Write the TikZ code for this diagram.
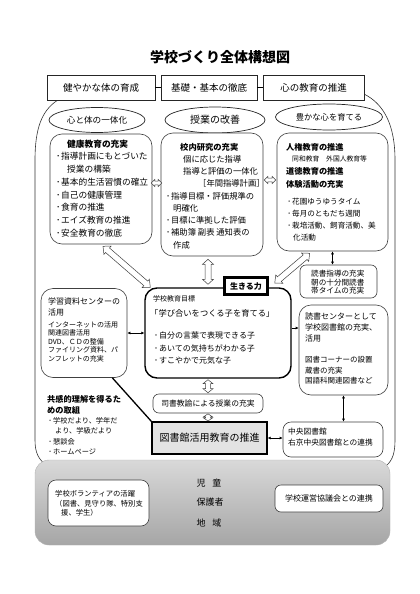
\documentclass[tikz,border=0pt]{standalone}
\usepackage{fontspec}
\setmainfont{Noto Sans CJK JP}
\usetikzlibrary{calc,arrows.meta,shapes.geometric}
\newcommand{\dotb}{\makebox[6pt][c]{･}}
\newcommand{\fsz}[2]{\fontsize{#1pt}{#2pt}\selectfont}
\newcommand{\hollowarr}[5]{%
  \coordinate (h1) at ($(#1)!#5pt!(#2)$);
  \coordinate (h2) at ($(#2)!#5pt!(#1)$);
  \draw[harrow] (#1) -- ($(h1)!#4pt!90:(#2)$) -- ($(h1)!#3pt!90:(#2)$) -- ($(h2)!#3pt!-90:(#1)$) -- ($(h2)!#4pt!-90:(#1)$) -- (#2) -- ($(h2)!#4pt!90:(#1)$) -- ($(h2)!#3pt!90:(#1)$) -- ($(h1)!#3pt!-90:(#2)$) -- ($(h1)!#4pt!-90:(#2)$) -- cycle;}
\tikzset{
 topbox/.style={draw=black!85, line width=0.8pt, fill=white, minimum height=25pt, inner sep=0pt, font=\fsz{9.5}{11}},
 ell/.style={ellipse, draw=black!85, line width=0.7pt, fill=white, inner sep=0pt},
 rbox/.style={draw=black!75, line width=0.6pt, rounded corners=12pt, fill=white, inner sep=0pt},
 sbox/.style={draw=black!75, line width=0.6pt, rounded corners=6pt, fill=white, inner sep=0pt},
 txt/.style={inner sep=0pt, anchor=north west, align=left},
 blk/.style={line width=0.7pt, <->, >={Latex[length=3pt,width=3pt]}},
 blkone/.style={line width=0.7pt, ->, >={Latex[length=3pt,width=3pt]}},
 harrow/.style={draw=black!75, line width=0.5pt, fill=white, line join=miter},
 outerline/.style={draw=black!80, line width=0.6pt},
}
\begin{document}
\begin{tikzpicture}[x=1pt,y=-1pt]
\useasboundingbox[fill=white] (0,0) rectangle (420,594);

% outer frame lines
\draw[outerline] (58,100) .. controls (42,110) and (35,128) .. (35,160) -- (35,440) .. controls (35,452) and (38,460) .. (48,466);
\draw[outerline] (364,94) .. controls (384,104) and (395,125) .. (395,160) -- (395,440) .. controls (395,452) and (393,460) .. (386,466);

% bottom community box
\node[draw=gray!60, rounded corners=14pt, top color=gray!30, middle color=white, bottom color=gray!70, minimum width=355pt, minimum height=85pt, inner sep=0pt] (BB) at (212.5,502.5) {};
\node[sbox, rounded corners=8pt, minimum width=101pt, minimum height=46pt] (BV) at (98.5,503) {};
\node[txt, font=\fsz{7.3}{9.5}] at (55,490.3) {学校ボランティアの活躍\\（図書、見守り隊、特別支\\\hspace*{6pt}援、学生）};
\node[sbox, minimum width=108pt, minimum height=27pt, font=\fsz{8}{9}] (BW) at (329,498.5) {学校運営協議会との連携};
\node[font=\fsz{9}{10}] (p1) at (209,483) {児\hspace{7pt}童};
\node[font=\fsz{9}{10}] (p2) at (210,502) {保護者};
\node[font=\fsz{9}{10}] (p3) at (209,523) {地\hspace{7pt}域};

% title
\node[font=\bfseries\fsz{14}{16}] (title) at (220,57) {学校づくり全体構想図};

% top boxes
\node[topbox, minimum width=108pt] (tb1) at (101,87.5) {健やかな体の育成};
\node[topbox, minimum width=96pt] (tb2) at (209,87.5) {基礎・基本の徹底};
\node[topbox, minimum width=101pt] (tb3) at (313.5,87.5) {心の教育の推進};
\draw[line width=0.6pt] (tb1.east) -- (tb2.west);
\draw[line width=0.6pt] (tb2.east) -- (tb3.west);

% ellipses
\node[ell, minimum width=96pt, minimum height=25pt, font=\fsz{8.6}{10}] (e1) at (97,120) {心と体の一体化};
\node[ell, minimum width=100pt, minimum height=26pt, font=\fsz{10}{11}] (e2) at (215,120) {授業の改善};
\node[ell, minimum width=107pt, minimum height=26pt, font=\fsz{8.3}{10}] (e3) at (329,117) {豊かな心を育てる};

% three boxes
\node[rbox, minimum width=102pt, minimum height=110pt] (A) at (101,189) {};
\node[rbox, minimum width=102pt, minimum height=123pt] (B) at (212,194.5) {};
\node[rbox, minimum width=111pt, minimum height=118pt] (C) at (332.5,192) {};

\node[txt, font=\fsz{8.7}{12.7}] at (55,139.6) {\hspace*{12pt}\textbf{健康教育の充実}\\\dotb 指導計画にもとづいた\\\hspace*{12pt}授業の構築\\\dotb 基本的生活習慣の確立\\\dotb 自己の健康管理\\\dotb 食育の推進\\\dotb エイズ教育の推進\\\dotb 安全教育の徹底};

\node[txt, font=\fsz{8.3}{12.25}] at (165,142.8) {\hspace*{15pt}\textbf{校内研究の充実}\\\hspace*{18pt}個に応じた指導\\\hspace*{18pt}指導と評価の一体化\\\hspace*{33pt}［年間指導計画］\\\dotb 指導目標・評価規準の\\\hspace*{8pt}明確化\\\dotb 目標に準拠した評価\\\dotb 補助簿 副表 通知表の\\\hspace*{8pt}作成};

\node[txt, font=\bfseries\fsz{8.2}{12.3}] at (286,142.9) {人権教育の推進\\\mbox{}\\道徳教育の推進\\体験活動の充実};
\node[txt, font=\fsz{6.8}{8}] at (292,155.6) {同和教育　外国人教育等};
\node[txt, font=\fsz{7.6}{12}] at (286,198.2) {\dotb 花園ゆうゆうタイム\\\dotb 毎月のともだち週間\\\dotb 栽培活動、飼育活動、美\\\hspace*{7pt}化活動};

% left resource box
\node[rbox, minimum width=86pt, minimum height=89pt] (M) at (84,333) {};
\node[txt, font=\fsz{8}{11}] at (48,298) {学習資料センターの\\活用};
\node[txt, font=\fsz{7}{8.4}] at (48,321.5) {インターネットの活用\\関連図書活用\\DVD、ＣＤの整備\\ファイリング資料、パ\\ンフレットの充実};

% central goal box
\node[rbox, line width=1.4pt, draw=black, minimum width=146pt, minimum height=90pt] (G) at (218,333) {};
\node[txt, font=\fsz{7}{8}] at (153,295.5) {学校教育目標};
\node[txt, anchor=west, font=\fsz{8.3}{10}] at (150,313) {「学び合いをつくる子を育てる」};
\node[txt, font=\fsz{8}{12.2}] at (153,332) {\dotb 自分の言葉で表現できる子\\\dotb あいての気持ちがわかる子\\\dotb すこやかで元気な子};

% ikiru chikara
\node[draw=black, line width=1.5pt, fill=white, minimum width=44pt, minimum height=18pt, inner sep=0pt, font=\bfseries\fsz{8}{9}] (L) at (246,286) {生きる力};
\draw[line width=0.4pt] ($(L.north west)+(2.2,2.2)$) rectangle ($(L.south east)+(-2.2,-2.2)$);

% right boxes
\node[sbox, minimum width=77pt, minimum height=33pt] (R1) at (338.5,281.5) {};
\node[txt, font=\fsz{7.6}{8.6}] at (311,270) {読書指導の充実\\朝の十分間読書\\帯タイムの充実};
\node[rbox, minimum width=89pt, minimum height=90pt] (R2) at (343.5,350) {};
\node[txt, font=\fsz{8}{10.6}] at (305,313) {読書センターとして\\学校図書館の充実、\\活用};
\node[txt, font=\fsz{7.5}{10.6}] at (305,356) {図書コーナーの設置\\蔵書の充実\\国語科関連図書など};
\node[sbox, rounded corners=8pt, minimum width=100pt, minimum height=35pt] (R3) at (333,439.5) {};
\node[txt, font=\fsz{7.7}{11}] at (288,428) {中央図書館\\右京中央図書館との連携};

% lower middle boxes
\node[sbox, minimum width=110pt, minimum height=19pt, font=\fsz{7.8}{9}] (S) at (208,403.5) {司書教諭による授業の充実};
\node[draw=black, line width=1.2pt, fill=gray!22, minimum width=115pt, minimum height=32pt, inner sep=0pt, font=\fsz{10}{11}] (T) at (209.5,438) {図書館活用教育の推進};

% left text
\node[txt, font=\bfseries\fsz{8.2}{11}] at (47,395) {共感的理解を得るた\\めの取組};
\node[txt, font=\fsz{7.2}{10.3}] at (47,417.4) {\dotb 学校だより、学年だ\\\hspace*{8pt}より、学級だより\\\dotb 懇談会\\\dotb ホームページ};

% black connectors
\coordinate (r1t) at ($(R1.north)+(-6,0)$);
\draw[blk] (r1t |- C.south) -- (r1t);
\draw[blk] (R2.south) -- (R2.south |- R3.north);
\draw[blk] (M.east) -- (G.west);
\coordinate (ge) at ($(G.east)+(0,-5)$);
\draw[blkone] (ge) -- (ge -| R2.west);
\draw[blk] (T.east) -- (T.east -| R3.west);
\draw[line width=1.3pt] ($(M.south east)+(-15,0)$) -- (T.north west);

% hollow arrows
\coordinate (ab1) at ($(A.east)+(-1,-6)$);
\coordinate (ab2) at ($(B.west)+(1,-11.5)$);
\hollowarr{ab1}{ab2}{1.8}{3.5}{3.5}
\coordinate (bc1) at ($(B.east)+(1,-14.5)$);
\coordinate (bc2) at ($(C.west)+(-1,-12)$);
\hollowarr{bc1}{bc2}{1.8}{3.5}{3.5}
\coordinate (bg1) at ($(B.south)+(-4,3)$);
\coordinate (bg2) at ($(G.north)+(-10,-3)$);
\hollowarr{bg1}{bg2}{3}{5.5}{5}
\coordinate (ag1) at ($(A.south)+(2,2)$);
\coordinate (ag2) at ($(G.north west)+(6,0)$);
\hollowarr{ag1}{ag2}{3}{5.5}{6}
\coordinate (cl1) at ($(C.south west)+(33,2)$);
\coordinate (cl2) at ($(L.east)+(6,-3)$);
\hollowarr{cl1}{cl2}{3}{5.5}{6}
\coordinate (gs1) at ($(G.south)+(-10,1)$);
\coordinate (gs2) at ($(S.north)+(0,-1)$);
\hollowarr{gs1}{gs2}{2.5}{5}{4}
\coordinate (st1) at ($(S.south)+(0,0.5)$);
\coordinate (st2) at ($(T.north)+(-1.5,-0.5)$);
\hollowarr{st1}{st2}{2.5}{4.5}{3}
\end{tikzpicture}
\end{document}
